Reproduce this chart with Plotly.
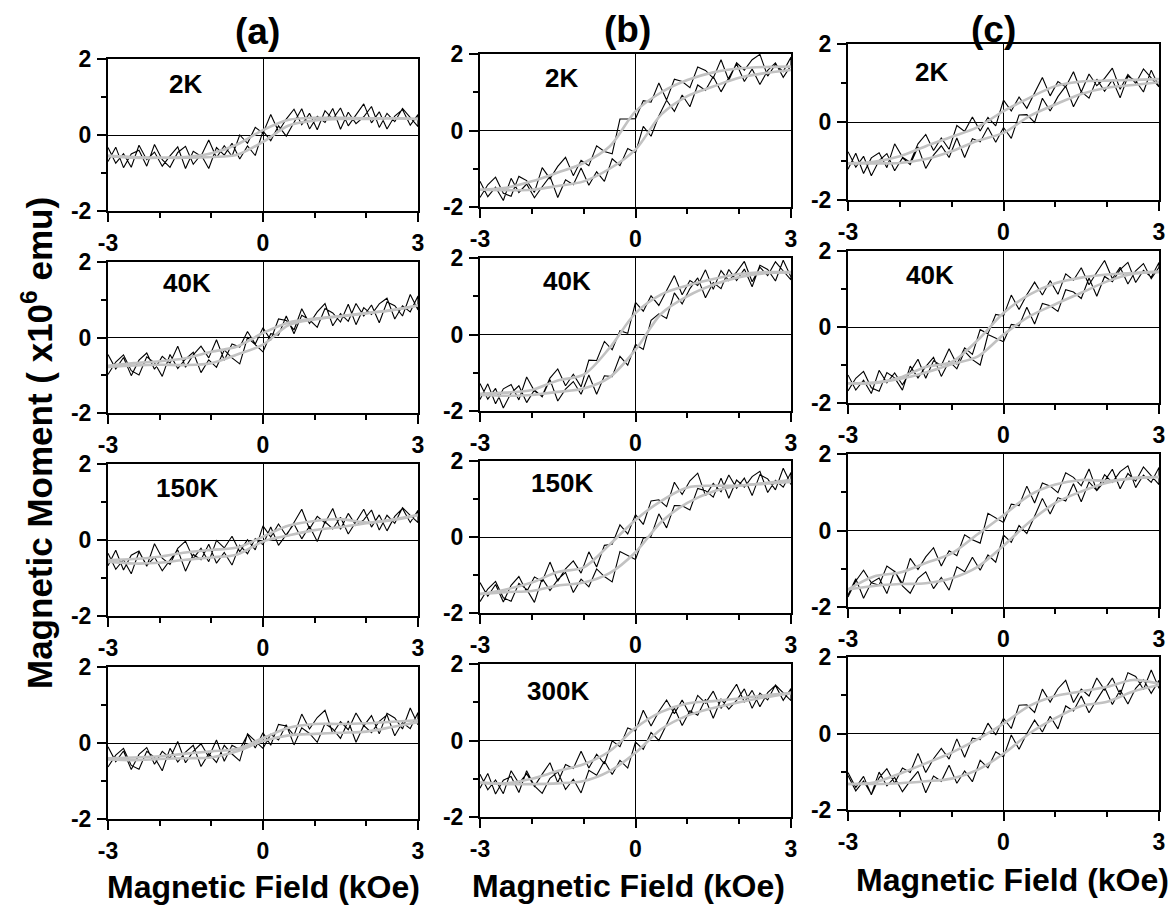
import plotly.graph_objects as go

# ---------------- data ----------------
FIELD = [-3.0, -2.85, -2.7, -2.55, -2.4, -2.25, -2.1, -1.95, -1.8, -1.65, -1.5,
         -1.35, -1.2, -1.05, -0.9, -0.75, -0.6, -0.45, -0.3, -0.15, 0.0,
         0.15, 0.3, 0.45, 0.6, 0.75, 0.9, 1.05, 1.2, 1.35, 1.5,
         1.65, 1.8, 1.95, 2.1, 2.25, 2.4, 2.55, 2.7, 2.85, 3.0]
FIT_FIELD = [-3.0, -2.5, -2.0, -1.5, -1.0, -0.5, 0.0, 0.5, 1.0, 1.5, 2.0, 2.5, 3.0]

X_TICKS = [-3, 0, 3]
X_TICK_TEXT = ["-3", "0", "3"]
X_MINOR = [-2, -1, 1, 2]
Y_TICKS = [-2, 0, 2]
Y_TICK_TEXT = ["-2", "0", "2"]
Y_MINOR = [-1, 1]

# column (a)
A1_UP = [-0.33,-0.74,-0.49,-0.85,-0.27,-0.65,-0.45,-0.82,-0.55,-0.31,-0.88,-0.43,-0.56,-0.13,-0.60,-0.28,-0.56,0.00,-0.22,0.20,0.05,0.54,0.09,0.42,0.68,0.27,0.57,0.14,0.64,0.42,0.71,0.24,0.53,0.82,0.32,0.61,0.16,0.50,0.67,0.26,0.54]
A1_DN = [-0.70,-0.32,-0.86,-0.50,-0.40,-0.82,-0.25,-0.65,-0.85,-0.46,-0.30,-0.77,-0.52,-0.88,-0.33,-0.53,-0.22,-0.63,-0.29,-0.54,0.10,-0.15,0.24,-0.03,0.33,0.69,0.16,0.49,0.33,0.70,0.15,0.60,0.30,0.48,0.75,0.20,0.57,0.35,0.70,0.46,0.22]
A1_FIT_UP = [-0.55,-0.58,-0.60,-0.58,-0.48,-0.25,0.13,0.40,0.45,0.45,0.44,0.44,0.42]
A1_FIT_DN = [-0.55,-0.60,-0.60,-0.60,-0.58,-0.52,-0.18,0.25,0.38,0.42,0.42,0.44,0.42]

A2_UP = [-0.45,-0.83,-0.53,-1.01,-0.60,-0.41,-0.84,-0.50,-0.68,-0.23,-0.79,-0.46,-0.23,-0.54,-0.06,-0.60,-0.17,-0.25,0.16,-0.17,0.26,-0.07,0.49,0.45,0.20,0.76,0.37,0.68,0.90,0.31,0.63,0.43,0.90,0.57,0.86,0.39,0.94,0.84,0.57,1.14,0.73]
A2_DN = [-0.98,-0.65,-0.46,-0.88,-0.99,-0.51,-0.67,-1.03,-0.45,-0.82,-0.57,-0.39,-0.93,-0.59,-0.79,-0.33,-0.54,-0.70,0.00,-0.19,-0.38,0.10,0.06,0.57,0.10,0.59,0.47,0.27,0.77,0.65,0.41,0.88,0.34,0.79,0.61,0.89,1.04,0.49,0.84,0.68,1.10]
A2_FIT_UP = [-0.75,-0.68,-0.63,-0.55,-0.38,-0.24,0.12,0.40,0.50,0.57,0.65,0.73,0.85]
A2_FIT_DN = [-0.78,-0.74,-0.72,-0.73,-0.68,-0.45,-0.19,0.33,0.48,0.56,0.64,0.72,0.85]

A3_UP = [-0.68,-0.27,-0.79,-0.40,-0.29,-0.69,-0.10,-0.48,-0.64,-0.22,-0.03,-0.49,-0.22,-0.57,-0.01,-0.21,0.10,-0.31,0.01,-0.26,0.37,0.08,0.42,0.11,0.45,0.81,0.29,0.62,0.45,0.83,0.28,0.70,0.38,0.53,0.79,0.26,0.65,0.44,0.85,0.65,0.46]
A3_DN = [-0.35,-0.77,-0.52,-0.89,-0.31,-0.67,-0.45,-0.81,-0.53,-0.26,-0.82,-0.38,-0.52,-0.11,-0.61,-0.33,-0.66,-0.14,-0.36,0.04,-0.12,0.34,-0.14,0.15,0.42,0.03,0.36,-0.04,0.48,0.29,0.60,0.16,0.49,0.81,0.34,0.66,0.24,0.62,0.83,0.46,0.78]
A3_FIT_UP = [-0.53,-0.50,-0.44,-0.33,-0.26,-0.20,0.09,0.38,0.50,0.55,0.46,0.52,0.66]
A3_FIT_DN = [-0.57,-0.62,-0.60,-0.52,-0.46,-0.38,-0.04,0.12,0.26,0.34,0.44,0.54,0.66]

A4_UP = [-0.10,-0.49,-0.21,-0.70,-0.30,-0.12,-0.56,-0.22,-0.40,0.04,-0.52,-0.22,-0.02,-0.37,0.08,-0.48,-0.06,-0.17,0.22,-0.13,0.27,-0.06,0.49,0.45,0.20,0.76,0.37,0.67,0.86,0.25,0.56,0.35,0.79,0.45,0.72,0.24,0.78,0.66,0.37,0.92,0.48]
A4_DN = [-0.63,-0.32,-0.14,-0.59,-0.69,-0.22,-0.38,-0.73,-0.14,-0.50,-0.24,-0.06,-0.62,-0.28,-0.51,-0.06,-0.29,-0.47,0.24,0.05,-0.14,0.23,0.08,0.48,-0.05,0.40,0.25,0.02,0.51,0.37,0.12,0.58,0.02,0.46,0.27,0.57,0.74,0.19,0.54,0.38,0.80]
A4_FIT_UP = [-0.40,-0.38,-0.35,-0.28,-0.22,-0.15,0.13,0.40,0.50,0.50,0.52,0.56,0.60]
A4_FIT_DN = [-0.43,-0.45,-0.42,-0.40,-0.38,-0.22,0.05,0.20,0.24,0.27,0.30,0.42,0.55]

# column (b)
B1_UP = [-1.75,-1.42,-1.22,-1.64,-1.72,-1.20,-1.31,-1.62,-0.97,-1.26,-0.94,-0.70,-1.18,-0.78,-0.92,-0.40,-0.55,-0.61,0.30,0.30,0.31,0.78,0.74,1.24,0.80,1.34,1.28,1.12,1.66,1.57,1.37,1.85,1.31,1.77,1.58,1.85,1.99,1.42,1.73,1.54,1.92]
B1_DN = [-1.33,-1.73,-1.48,-1.83,-1.25,-1.62,-1.40,-1.76,-1.47,-1.20,-1.75,-1.29,-1.42,-0.98,-1.43,-1.08,-1.33,-0.74,-0.92,-0.47,-0.58,0.11,-0.15,0.38,0.79,0.50,0.93,0.62,1.19,1.05,1.41,1.01,1.38,1.74,1.28,1.61,1.20,1.57,1.77,1.39,1.70]
B1_FIT_UP = [-1.55,-1.50,-1.33,-1.10,-0.85,-0.42,0.50,1.00,1.32,1.52,1.62,1.66,1.67]
B1_FIT_DN = [-1.55,-1.56,-1.55,-1.45,-1.33,-1.00,-0.50,0.42,0.90,1.15,1.38,1.50,1.58]

B2_UP = [-1.70,-1.29,-1.81,-1.42,-1.31,-1.71,-1.11,-1.48,-1.60,-1.14,-0.90,-1.34,-1.04,-1.37,-0.67,-0.68,-0.18,-0.40,0.10,0.03,0.84,0.61,1.01,0.76,1.15,1.54,1.04,1.41,1.28,1.69,1.18,1.67,1.41,1.63,1.91,1.38,1.76,1.54,1.90,1.66,1.43]
B2_DN = [-1.28,-1.69,-1.41,-1.92,-1.53,-1.34,-1.78,-1.45,-1.63,-1.18,-1.74,-1.43,-1.23,-1.56,-1.06,-1.56,-1.08,-1.10,-0.57,-0.80,-0.26,-0.39,0.37,0.54,0.42,1.09,0.80,1.20,1.48,0.96,1.36,1.20,1.70,1.41,1.71,1.25,1.81,1.70,1.40,1.94,1.50]
B2_FIT_UP = [-1.55,-1.52,-1.45,-1.20,-1.05,-0.35,0.56,1.05,1.28,1.45,1.58,1.63,1.63]
B2_FIT_DN = [-1.58,-1.60,-1.58,-1.50,-1.41,-1.12,-0.40,0.55,1.00,1.30,1.50,1.60,1.62]

B3_UP = [-1.20,-1.56,-1.25,-1.71,-1.27,-1.04,-1.44,-1.05,-1.17,-0.66,-1.16,-0.84,-0.63,-0.95,-0.39,-0.79,-0.22,-0.19,0.32,0.08,0.59,0.33,0.95,0.98,0.80,1.44,1.12,1.48,1.68,1.09,1.41,1.19,1.63,1.28,1.55,1.09,1.64,1.53,1.24,1.81,1.38]
B3_DN = [-1.70,-1.37,-1.17,-1.60,-1.69,-1.22,-1.38,-1.72,-1.09,-1.41,-1.12,-0.93,-1.46,-1.11,-1.31,-0.84,-1.04,-1.18,-0.38,-0.49,-0.59,-0.03,0.02,0.61,0.24,0.83,0.82,0.71,1.28,1.22,1.05,1.55,1.02,1.50,1.31,1.59,1.73,1.17,1.49,1.31,1.70]
B3_FIT_UP = [-1.50,-1.38,-1.20,-0.92,-0.80,-0.20,0.45,0.95,1.30,1.35,1.35,1.42,1.50]
B3_FIT_DN = [-1.50,-1.45,-1.42,-1.28,-1.20,-0.95,-0.40,0.40,0.90,1.20,1.35,1.40,1.45]

B4_UP = [-0.88,-1.29,-1.03,-1.39,-0.79,-1.12,-0.87,-1.20,-0.88,-0.58,-1.10,-0.63,-0.73,-0.28,-0.72,-0.36,-0.61,-0.01,-0.16,0.33,0.25,0.79,0.38,0.76,1.06,0.70,1.06,0.67,1.18,0.98,1.29,0.84,1.16,1.47,1.00,1.31,0.88,1.25,1.44,1.05,1.36]
B4_DN = [-1.25,-0.86,-1.40,-1.04,-0.94,-1.36,-0.79,-1.19,-1.38,-0.99,-0.82,-1.28,-1.01,-1.37,-0.78,-0.91,-0.54,-0.89,-0.52,-0.72,-0.04,-0.23,0.21,0.00,0.42,0.85,0.39,0.78,0.66,1.08,0.58,1.08,0.82,1.05,1.35,0.84,1.24,1.06,1.45,1.24,1.04]
B4_FIT_UP = [-1.10,-1.12,-1.00,-0.80,-0.62,-0.28,0.33,0.75,0.97,1.03,1.10,1.18,1.24]
B4_FIT_DN = [-1.10,-1.14,-1.14,-1.12,-1.06,-0.80,-0.32,0.30,0.65,0.85,1.00,1.13,1.24]

# column (c)
C1_UP = [-1.21,-0.80,-1.32,-0.92,-0.79,-1.17,-0.56,-0.90,-1.03,-0.56,-0.32,-0.73,-0.41,-0.70,-0.09,-0.24,0.13,-0.23,0.12,-0.10,0.56,0.28,0.64,0.35,0.73,1.14,0.67,1.04,0.90,1.29,0.77,1.23,0.93,1.12,1.38,0.84,1.22,0.99,1.36,1.12,0.90]
C1_DN = [-0.76,-1.16,-0.88,-1.38,-0.99,-0.81,-1.25,-0.92,-1.09,-0.64,-1.19,-0.85,-0.61,-0.91,-0.41,-0.91,-0.43,-0.51,-0.14,-0.52,-0.14,-0.42,0.18,0.19,-0.01,0.61,0.28,0.65,0.92,0.39,0.78,0.61,1.10,0.79,1.08,0.62,1.17,1.06,0.77,1.33,0.90]
C1_FIT_UP = [-1.06,-1.02,-0.88,-0.62,-0.38,-0.13,0.28,0.62,0.92,1.04,1.06,1.08,1.10]
C1_FIT_DN = [-1.06,-1.06,-1.05,-0.95,-0.75,-0.48,-0.28,0.15,0.45,0.72,0.88,0.95,1.02]

C2_UP = [-1.26,-1.66,-1.40,-1.75,-1.14,-1.47,-1.21,-1.52,-1.18,-0.85,-1.35,-0.89,-1.01,-0.57,-0.98,-0.55,-0.72,-0.07,-0.18,0.33,0.29,0.84,0.46,0.85,1.18,0.84,1.22,0.86,1.40,1.23,1.56,1.11,1.44,1.75,1.27,1.57,1.13,1.48,1.67,1.27,1.57]
C2_DN = [-1.68,-1.35,-1.17,-1.60,-1.69,-1.20,-1.34,-1.66,-1.03,-1.34,-1.04,-0.80,-1.30,-0.90,-1.10,-0.64,-0.86,-1.00,-0.20,-0.29,-0.39,0.07,0.03,0.52,0.08,0.62,0.56,0.41,0.98,0.92,0.75,1.29,0.81,1.33,1.19,1.51,1.70,1.17,1.49,1.31,1.70]
C2_FIT_UP = [-1.48,-1.48,-1.33,-1.05,-0.92,-0.35,0.37,0.85,1.15,1.30,1.38,1.42,1.45]
C2_FIT_DN = [-1.48,-1.46,-1.37,-1.20,-0.98,-0.78,-0.20,0.28,0.60,0.90,1.20,1.40,1.45]

C3_UP = [-1.74,-1.32,-1.04,-1.37,-1.43,-0.93,-1.07,-1.39,-0.73,-1.02,-0.69,-0.45,-0.93,-0.53,-0.66,-0.11,-0.24,-0.33,0.45,0.33,0.21,0.69,0.65,1.16,0.72,1.24,1.16,0.99,1.51,1.39,1.17,1.61,1.04,1.46,1.26,1.54,1.69,1.12,1.45,1.26,1.65]
C3_DN = [-1.69,-1.26,-1.77,-1.36,-1.24,-1.65,-1.06,-1.45,-1.64,-1.25,-1.08,-1.52,-1.23,-1.56,-0.95,-1.08,-0.70,-1.04,-0.64,-0.83,-0.12,-0.31,0.13,-0.08,0.37,0.84,0.43,0.86,0.77,1.22,0.75,1.27,1.04,1.29,1.60,1.09,1.49,1.29,1.66,1.42,1.20]
C3_FIT_UP = [-1.54,-1.20,-1.10,-0.85,-0.60,-0.10,0.40,0.92,1.20,1.32,1.30,1.36,1.40]
C3_FIT_DN = [-1.54,-1.45,-1.40,-1.38,-1.25,-0.95,-0.40,0.22,0.72,1.02,1.25,1.38,1.40]

C4_UP = [-1.02,-1.41,-1.12,-1.60,-1.16,-0.92,-1.30,-0.90,-1.02,-0.52,-1.02,-0.66,-0.39,-0.67,-0.14,-0.62,-0.12,-0.16,0.27,-0.04,0.40,0.13,0.74,0.75,0.55,1.16,0.82,1.17,1.39,0.81,1.16,0.98,1.45,1.14,1.45,1.01,1.59,1.49,1.15,1.66,1.18]
C4_DN = [-1.10,-1.50,-1.24,-1.59,-1.01,-1.37,-1.15,-1.52,-1.24,-0.99,-1.55,-1.11,-1.25,-0.83,-1.30,-0.98,-1.26,-0.70,-0.90,-0.48,-0.61,-0.04,-0.41,0.00,0.35,0.04,0.45,0.12,0.72,0.59,0.98,0.54,0.88,1.20,0.76,1.14,0.77,1.18,1.41,1.05,1.39]
C4_FIT_UP = [-1.32,-1.28,-1.05,-0.78,-0.50,-0.15,0.26,0.72,0.98,1.10,1.22,1.40,1.30]
C4_FIT_DN = [-1.32,-1.32,-1.30,-1.25,-1.18,-0.95,-0.53,0.00,0.40,0.72,0.83,1.10,1.27]

TEMP_LABELS = ["2K", "40K", "150K", "", "2K", "40K", "150K", "300K", "2K", "40K", "", ""]
COLUMN_TITLES = ["(a)", "(b)", "(c)"]
X_TITLE = "Magnetic Field (kOe)"
Y_TITLE = "Magnetic Moment ( x10<sup>6</sup> emu)"

PANELS = [
    (A1_UP, A1_DN, A1_FIT_UP, A1_FIT_DN), (A2_UP, A2_DN, A2_FIT_UP, A2_FIT_DN),
    (A3_UP, A3_DN, A3_FIT_UP, A3_FIT_DN), (A4_UP, A4_DN, A4_FIT_UP, A4_FIT_DN),
    (B1_UP, B1_DN, B1_FIT_UP, B1_FIT_DN), (B2_UP, B2_DN, B2_FIT_UP, B2_FIT_DN),
    (B3_UP, B3_DN, B3_FIT_UP, B3_FIT_DN), (B4_UP, B4_DN, B4_FIT_UP, B4_FIT_DN),
    (C1_UP, C1_DN, C1_FIT_UP, C1_FIT_DN), (C2_UP, C2_DN, C2_FIT_UP, C2_FIT_DN),
    (C3_UP, C3_DN, C3_FIT_UP, C3_FIT_DN), (C4_UP, C4_DN, C4_FIT_UP, C4_FIT_DN),
]

# ---------------- layout geometry (pixels) ----------------
W, H = 1174, 907
COL_X = [(108, 418), (480, 791), (848, 1159)]
ROW_Y = [
    [(59, 211), (262, 413), (464, 616), (667, 819)],
    [(54, 207), (258, 411), (461, 613), (664, 817)],
    [(44, 200), (251, 403), (454, 607), (657, 810)],
]
LABEL_POS = [(185, 84), (187, 283), (187, 488), None,
             (561, 78), (567, 281), (562, 483), (558, 691),
             (932, 72), (930, 275), None, None]
TITLE_POS = [(257, 31), (627, 30), (993, 29)]
XTITLE_POS = [(263, 887), (628, 886), (1012, 880)]


def px(x):
    return x / W


def py(y):
    return 1 - y / H


FONT = "Arial, Liberation Sans, Helvetica, sans-serif"
GREY = "#c2c2c2"

fig = go.Figure()
layout = dict(
    template="none",
    width=W, height=H, autosize=False,
    margin=dict(l=0, r=0, t=0, b=0, pad=0),
    paper_bgcolor="white", plot_bgcolor="white",
    showlegend=False,
    font=dict(family=FONT, color="black"),
)

annotations = []
for i, (up, dn, fup, fdn) in enumerate(PANELS):
    col, row = divmod(i, 4)
    n = i + 1
    xs = "x" if n == 1 else f"x{n}"
    ys = "y" if n == 1 else f"y{n}"
    # black measured loop: ascending branch then descending branch
    fig.add_trace(go.Scatter(
        x=FIELD + FIELD[::-1], y=dn + up[::-1], mode="lines",
        line=dict(color="black", width=1.1), xaxis=xs, yaxis=ys, hoverinfo="skip"))
    for fy in (fup, fdn):
        fig.add_trace(go.Scatter(
            x=FIT_FIELD, y=fy, mode="lines",
            line=dict(color=GREY, width=2.6, shape="spline", smoothing=0.9),
            xaxis=xs, yaxis=ys, hoverinfo="skip"))

    x0, x1 = COL_X[col]
    y0, y1 = ROW_Y[col][row]
    common = dict(
        automargin=False,
        showline=True, linewidth=2, linecolor="black", mirror=True,
        ticks="outside", ticklen=9, tickwidth=2, tickcolor="black",
        showgrid=False, zeroline=True, zerolinecolor="black", zerolinewidth=1,
        tickfont=dict(family=FONT, size=23, color="black", weight="bold"),
        fixedrange=True, tickmode="array",
    )
    layout["xaxis" if n == 1 else f"xaxis{n}"] = dict(
        common, domain=[px(x0), px(x1)], range=[-3, 3], anchor=ys,
        tickvals=X_TICKS, ticktext=X_TICK_TEXT, ticklabelstandoff=1,
        minor=dict(tickvals=X_MINOR, ticks="outside", ticklen=5, tickwidth=2,
                   tickcolor="black", showgrid=False),
    )
    layout["yaxis" if n == 1 else f"yaxis{n}"] = dict(
        common, domain=[py(y1), py(y0)], range=[-2, 2], anchor=xs,
        tickvals=Y_TICKS, ticktext=Y_TICK_TEXT, ticklabelstandoff=1,
        minor=dict(tickvals=Y_MINOR, ticks="outside", ticklen=5, tickwidth=2,
                   tickcolor="black", showgrid=False),
    )
    if TEMP_LABELS[i] and LABEL_POS[i]:
        lx, ly = LABEL_POS[i]
        annotations.append(dict(
            text=TEMP_LABELS[i], x=px(lx), y=py(ly), xref="paper", yref="paper",
            xanchor="center", yanchor="middle", showarrow=False,
            font=dict(family=FONT, size=26, color="black", weight="bold")))

for t, (tx, ty) in zip(COLUMN_TITLES, TITLE_POS):
    annotations.append(dict(
        text=t, x=px(tx), y=py(ty), xref="paper", yref="paper",
        xanchor="center", yanchor="middle", showarrow=False,
        font=dict(family=FONT, size=37, color="black", weight="bold")))

for (tx, ty) in XTITLE_POS:
    annotations.append(dict(
        text=X_TITLE, x=px(tx), y=py(ty), xref="paper", yref="paper",
        xanchor="center", yanchor="middle", showarrow=False,
        font=dict(family=FONT, size=32, color="black", weight="bold")))

annotations.append(dict(
    text=Y_TITLE, x=px(37), y=py(443), xref="paper", yref="paper",
    xanchor="center", yanchor="middle", showarrow=False, textangle=-90,
    font=dict(family=FONT, size=35, color="black", weight="bold")))

layout["annotations"] = annotations
fig.update_layout(**layout)
fig.write_html("out.html")
